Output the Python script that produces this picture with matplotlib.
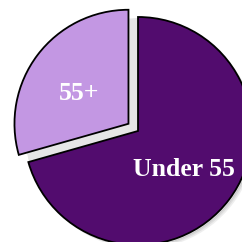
import matplotlib.pyplot as plt

labels = ['55+', 'Under 55']
shares = [29.4, 70.6]
colors = ['#c397e3', '#520c6e']
explode = [0.105, 0]

fig = plt.figure(figsize=(2.42, 2.42), dpi=100)
ax = fig.add_axes([0, 0, 1, 1])

# soft shadow behind the pie
for off, a in [(0.035, 0.25), (0.025, 0.35), (0.015, 0.6)]:
    ax.pie(shares, colors=['#bdbdbd', '#bdbdbd'], startangle=90, radius=1,
           center=(off, -off), wedgeprops={'linewidth': 0, 'alpha': a})
ax.pie(shares, colors=['#e6e6e6', '#e6e6e6'], startangle=90, radius=1,
       center=(0.01, -0.01), wedgeprops={'linewidth': 0})

wedges, texts = ax.pie(shares, labels=labels, colors=colors, explode=explode,
                       startangle=90, radius=1, labeldistance=0.5,
                       wedgeprops={'edgecolor': 'black', 'linewidth': 1.3},
                       textprops={'color': 'white', 'fontsize': 18.5,
                                  'fontweight': 'bold',
                                  'family': 'Liberation Serif',
                                  'ha': 'center', 'va': 'center'})
# nudge labels a little
for t, dx in zip(texts, [-0.035, 0.0]):
    x, y = t.get_position()
    t.set_position((x + dx, y - 0.035))

ax.set_xlim(-1.2105, 0.912)
ax.set_ylim(-0.974, 1.149)
ax.set_aspect('equal')
ax.axis('off')

fig.savefig('out.png', dpi=100)
